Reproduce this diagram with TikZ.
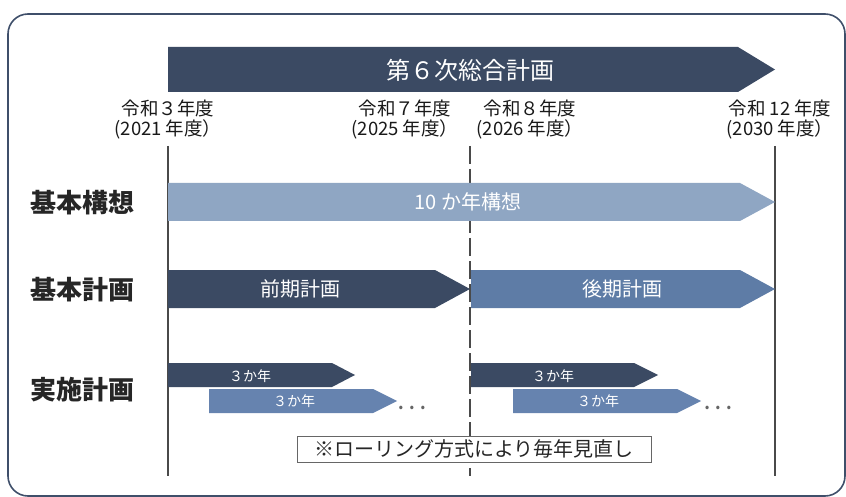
\documentclass[tikz,border=0pt]{standalone}
\usepackage{fontspec}
\setmainfont{Noto Sans CJK JP}
\definecolor{navy}{HTML}{3B4A63}
\definecolor{pale}{HTML}{8FA6C3}
\definecolor{midb}{HTML}{5E7CA6}
\definecolor{lowb}{HTML}{6683AF}
\definecolor{framec}{HTML}{3F4F6A}
\definecolor{vline}{HTML}{4A4A4A}
\tikzset{
  yearlbl/.style={font=\fontsize{18.5}{20}\selectfont, align=center, text=black!90, inner sep=0pt},
  rowlbl/.style={font=\fontsize{26}{28}\selectfont\bfseries, text=black!85, inner sep=0pt},
  bartext/.style={font=\fontsize{20}{24}\selectfont, text=white, inner sep=0pt},
  smalltext/.style={font=\fontsize{14}{16}\selectfont, text=white, inner sep=0pt},
  dotstext/.style={font=\fontsize{16}{18}\selectfont\bfseries, text=black!60, inner sep=0pt},
  timeline/.style={draw=vline, line width=1.2pt},
}
\begin{document}
\begin{tikzpicture}[x=1pt,y=-1pt]
\useasboundingbox (0,0) rectangle (846,497);
% frame
\draw[framec, line width=1.6pt, rounded corners=20pt] (8,14) rectangle (845,496);
% vertical lines
\coordinate (l1t) at (168,146); \coordinate (l1b) at (168,476);
\coordinate (l2t) at (470,146); \coordinate (l2b) at (470,476);
\coordinate (l3t) at (775,146); \coordinate (l3b) at (775,476);
\draw[timeline] (l1t) -- (l1b);
\draw[timeline] (l3t) -- (l3b);
\draw[timeline, dash pattern=on 18pt off 5pt] (l2t) -- (l2b);
% banner
\fill[navy] (168,47) -- (738,47) -- (775,69.5) -- (738,92) -- (168,92) -- cycle;
\node[bartext, font=\fontsize{24}{28}\selectfont] (title) at (470,70) {第６次総合計画};
% year labels
\node[yearlbl] (y1) at (168,120) {令和３年度\\(2021 年度）};
\node[yearlbl] (y2) at (405,120) {令和７年度\\(2025 年度）};
\node[yearlbl] (y3) at (530,120) {令和８年度\\(2026 年度）};
\node[yearlbl] (y4) at (780,120) {令和 12 年度\\(2030 年度）};
% row labels
\node[rowlbl] (r1) at (82,203) {基本構想};
\node[rowlbl] (r2) at (82,290) {基本計画};
\node[rowlbl] (r3) at (82,390) {実施計画};
% row 1
\fill[pale] (168,183) -- (740,183) -- (775,202) -- (740,221) -- (168,221) -- cycle;
\node[bartext] (b1) at (468,202) {10 か年構想};
% row 2
\fill[navy] (168,270) -- (435,270) -- (470,289) -- (435,308) -- (168,308) -- cycle;
\fill[midb] (471,270) -- (740,270) -- (775,289) -- (740,308) -- (471,308) -- cycle;
\node[bartext] (b2) at (300,289) {前期計画};
\node[bartext] (b3) at (622,289) {後期計画};
% row 3 first group
\fill[navy] (168,363) -- (332,363) -- (355,375) -- (332,387) -- (168,387) -- cycle;
\fill[lowb] (209,389) -- (373,389) -- (397,401) -- (373,413) -- (209,413) -- cycle;
\node[smalltext] (c1) at (250,376) {３か年};
\node[smalltext] (c2) at (294,401) {３か年};
\node[dotstext] (d1) at (412,408) {.\,\,.\,\,.};
% row 3 second group
\fill[navy] (471,363) -- (634,363) -- (658,375) -- (634,387) -- (471,387) -- cycle;
\fill[lowb] (513,389) -- (677,389) -- (701,401) -- (677,413) -- (513,413) -- cycle;
\node[smalltext] (c3) at (553,376) {３か年};
\node[smalltext] (c4) at (598,401) {３か年};
\node[dotstext] (d2) at (718,408) {.\,\,.\,\,.};
% note
\node[draw=black!60, line width=0.6pt, fill=white, font=\fontsize{20}{24}\selectfont, text=black!85,
      minimum width=354pt, minimum height=26pt, inner sep=0pt] (note) at (474,449) {※ローリング方式により毎年見直し};
\end{tikzpicture}
\end{document}
